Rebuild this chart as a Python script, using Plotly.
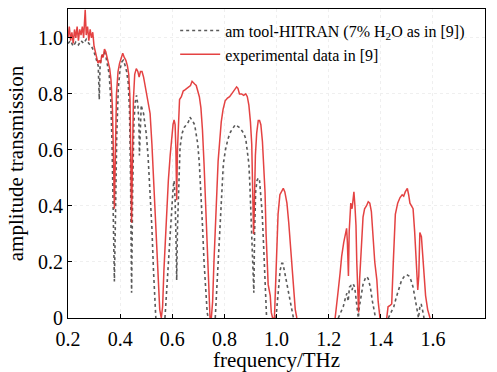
import plotly.graph_objects as go

# Experimental data (red); None marks the stretch where the trace lies on the axis
freq_exp = [0.200, 0.205, 0.210, 0.215, 0.220, 0.225, 0.230, 0.235, 0.240, 0.245, 0.250, 0.255, 0.260, 0.266, 0.270,
            0.275, 0.280, 0.285, 0.290, 0.295, 0.300, 0.305, 0.310, 0.315, 0.320, 0.325, 0.330, 0.335, 0.340, 0.345,
            0.350, 0.355, 0.360, 0.365, 0.370, 0.374, 0.378, 0.382, 0.386, 0.392, 0.398, 0.405, 0.410, 0.416, 0.422,
            0.428, 0.433, 0.438, 0.441, 0.444, 0.447, 0.451, 0.456, 0.462, 0.468, 0.473, 0.478, 0.484, 0.490, 0.496,
            0.502, 0.508, 0.515, 0.522, 0.528, 0.534, 0.540, 0.546, 0.552, 0.558, 0.563, 0.568, 0.572, 0.578, 0.585,
            0.592, 0.598, 0.603, 0.607, 0.611, 0.614, 0.617, 0.620, 0.624, 0.628, 0.635, 0.642, 0.650, 0.658, 0.664,
            0.670, 0.676, 0.680, 0.686, 0.692, 0.698, 0.704, 0.710, 0.716, 0.722, 0.728, 0.734, 0.740, 0.745, 0.750,
            0.755, 0.760, 0.766, 0.770, 0.776, 0.782, 0.788, 0.795, 0.803, 0.812, 0.820, 0.828, 0.836, 0.842, 0.847,
            0.852, 0.858, 0.866, 0.874, 0.882, 0.888, 0.894, 0.900, 0.905, 0.909, 0.912, 0.915, 0.919, 0.924, 0.930,
            0.935, 0.940, 0.946, 0.951, 0.956, 0.960, 0.964, 0.968, 0.972, 0.976, 0.980, 0.985, 0.992, 0.996, 1.000,
            1.006, 1.013, 1.020, 1.026, 1.032, 1.040, 1.047, 1.054, 1.060, 1.066, 1.072, 1.078, 1.150, 1.225, 1.232,
            1.237, 1.244, 1.250, 1.258, 1.264, 1.269, 1.272, 1.276, 1.279, 1.285, 1.290, 1.294, 1.297, 1.301, 1.305,
            1.308, 1.312, 1.315, 1.319, 1.323, 1.327, 1.332, 1.338, 1.345, 1.352, 1.358, 1.364, 1.370, 1.377, 1.385,
            1.390, 1.397, 1.410, 1.423, 1.428, 1.436, 1.442, 1.448, 1.452, 1.456, 1.465, 1.474, 1.482, 1.488, 1.494,
            1.502, 1.507, 1.512, 1.518, 1.524, 1.530, 1.536, 1.542, 1.546, 1.550, 1.556, 1.562, 1.572, 1.580, 1.589]
trans_exp = [1.00, 1.04, 0.99, 1.02, 0.98, 1.03, 1.00, 1.04, 0.99, 1.03, 1.01, 1.04, 1.00, 1.10, 1.01,
             1.04, 0.99, 1.03, 1.00, 1.02, 0.97, 0.95, 0.92, 0.91, 0.92, 0.91, 0.94, 0.93, 0.96, 0.95,
             0.93, 0.91, 0.89, 0.85, 0.76, 0.60, 0.39, 0.60, 0.80, 0.88, 0.91, 0.93, 0.945, 0.93, 0.92,
             0.90, 0.87, 0.78, 0.60, 0.34, 0.55, 0.78, 0.87, 0.89, 0.88, 0.86, 0.88, 0.88, 0.86, 0.83,
             0.80, 0.77, 0.73, 0.62, 0.50, 0.375, 0.24, 0.12, 0.03, 0.0, 0.04, 0.17, 0.26, 0.38, 0.49,
             0.58, 0.65, 0.69, 0.707, 0.69, 0.60, 0.42, 0.60, 0.74, 0.78, 0.79, 0.81, 0.815, 0.82, 0.825,
             0.83, 0.845, 0.84, 0.835, 0.83, 0.81, 0.79, 0.75, 0.67, 0.55, 0.40, 0.22, 0.06, 0.0, 0.0,
             0.06, 0.20, 0.36, 0.45, 0.56, 0.63, 0.70, 0.745, 0.775, 0.785, 0.79, 0.80, 0.81, 0.815, 0.825,
             0.82, 0.80, 0.80, 0.795, 0.80, 0.79, 0.76, 0.70, 0.62, 0.45, 0.30, 0.40, 0.58, 0.66, 0.705,
             0.705, 0.69, 0.63, 0.55, 0.45, 0.30, 0.18, 0.12, 0.10, 0.08, 0.02, 0.0, 0.0, 0.12, 0.26,
             0.37, 0.44, 0.455, 0.463, 0.45, 0.41, 0.34, 0.25, 0.16, 0.09, 0.03, 0.0, None, 0.0, 0.05,
             0.10, 0.16, 0.22, 0.27, 0.30, 0.32, 0.27, 0.15, 0.31, 0.41, 0.39, 0.42, 0.45, 0.40, 0.33,
             0.20, 0.05, 0.02, 0.14, 0.22, 0.28, 0.36, 0.39, 0.40, 0.415, 0.41, 0.38, 0.29, 0.20, 0.136,
             0.06, 0.0, None, 0.0, 0.04, 0.045, 0.05, 0.195, 0.31, 0.37, 0.41, 0.43, 0.44, 0.435, 0.45,
             0.463, 0.44, 0.41, 0.40, 0.39, 0.31, 0.20, 0.10, 0.15, 0.305, 0.29, 0.20, 0.08, 0.03, 0.0]

# am tool-HITRAN simulation (gray dotted)
freq_sim = [0.200, 0.210, 0.220, 0.230, 0.240, 0.250, 0.260, 0.270, 0.280, 0.290, 0.300, 0.306, 0.312, 0.316, 0.320,
            0.323, 0.328, 0.334, 0.340, 0.346, 0.352, 0.358, 0.364, 0.369, 0.374, 0.378, 0.382, 0.387, 0.393, 0.400,
            0.407, 0.412, 0.418, 0.425, 0.431, 0.436, 0.440, 0.444, 0.448, 0.453, 0.458, 0.463, 0.468, 0.472, 0.474,
            0.477, 0.481, 0.486, 0.490, 0.494, 0.500, 0.507, 0.515, 0.522, 0.528, 0.533, 0.537, 0.555, 0.572, 0.578,
            0.585, 0.592, 0.598, 0.603, 0.607, 0.611, 0.614, 0.617, 0.620, 0.624, 0.630, 0.638, 0.646, 0.654, 0.662,
            0.668, 0.674, 0.680, 0.686, 0.692, 0.698, 0.704, 0.710, 0.716, 0.722, 0.728, 0.734, 0.738, 0.750, 0.765,
            0.770, 0.776, 0.782, 0.788, 0.796, 0.804, 0.814, 0.824, 0.834, 0.842, 0.850, 0.858, 0.866, 0.874, 0.882,
            0.888, 0.894, 0.898, 0.902, 0.906, 0.910, 0.913, 0.916, 0.920, 0.925, 0.930, 0.935, 0.940, 0.945, 0.950,
            0.954, 0.958, 0.962, 0.980, 0.998, 1.003, 1.008, 1.014, 1.020, 1.024, 1.030, 1.037, 1.044, 1.052, 1.058,
            1.065, 1.150, 1.237, 1.247, 1.256, 1.264, 1.270, 1.275, 1.280, 1.285, 1.290, 1.295, 1.300, 1.305, 1.310,
            1.314, 1.318, 1.325, 1.332, 1.340, 1.346, 1.352, 1.360, 1.368, 1.374, 1.380, 1.405, 1.429, 1.440, 1.450,
            1.460, 1.470, 1.480, 1.490, 1.500, 1.508, 1.516, 1.524, 1.532, 1.540, 1.545, 1.550, 1.555, 1.560, 1.566]
trans_sim = [0.98, 0.99, 0.97, 0.985, 0.975, 0.99, 0.98, 0.995, 0.98, 0.97, 0.95, 0.93, 0.92, 0.90, 0.78,
             0.90, 0.93, 0.94, 0.95, 0.93, 0.90, 0.87, 0.78, 0.62, 0.35, 0.13, 0.35, 0.65, 0.82, 0.89,
             0.915, 0.92, 0.905, 0.88, 0.84, 0.74, 0.50, 0.09, 0.45, 0.70, 0.77, 0.795, 0.76, 0.70, 0.58,
             0.70, 0.76, 0.74, 0.73, 0.70, 0.66, 0.58, 0.46, 0.32, 0.17, 0.06, 0.0, None, 0.0, 0.09,
             0.18, 0.30, 0.40, 0.46, 0.49, 0.42, 0.30, 0.135, 0.32, 0.46, 0.61, 0.66, 0.68, 0.69, 0.70,
             0.717, 0.71, 0.70, 0.69, 0.66, 0.62, 0.55, 0.45, 0.33, 0.20, 0.09, 0.02, 0.0, None, 0.0,
             0.09, 0.22, 0.33, 0.45, 0.55, 0.60, 0.64, 0.665, 0.68, 0.69, 0.685, 0.68, 0.67, 0.66, 0.64,
             0.60, 0.55, 0.47, 0.375, 0.25, 0.136, 0.09, 0.31, 0.45, 0.49, 0.50, 0.49, 0.44, 0.375, 0.27,
             0.18, 0.08, 0.0, None, 0.0, 0.06, 0.12, 0.17, 0.195, 0.195, 0.17, 0.136, 0.09, 0.05, 0.02,
             0.0, None, 0.0, 0.02, 0.04, 0.07, 0.088, 0.06, 0.11, 0.115, 0.10, 0.12, 0.11, 0.07, 0.03,
             0.0, 0.04, 0.08, 0.12, 0.14, 0.148, 0.14, 0.11, 0.06, 0.03, 0.0, None, 0.0, 0.02, 0.04,
             0.075, 0.11, 0.135, 0.148, 0.155, 0.15, 0.135, 0.11, 0.07, 0.02, 0.0, 0.04, 0.05, 0.03, 0.0]

x_ticks = [0.2, 0.4, 0.6, 0.8, 1.0, 1.2, 1.4, 1.6, 1.8]
x_ticklabels = ["0.2", "0.4", "0.6", "0.8", "1.0", "1.2", "1.4", "1.6", "1.8"]
y_ticks = [0, 0.2, 0.4, 0.6, 0.8, 1.0]
y_ticklabels = ["0", "0.2", "0.4", "0.6", "0.8", "1.0"]

FONT = "Liberation Serif"

fig = go.Figure()
fig.add_trace(go.Scatter(
    x=freq_sim, y=trans_sim, mode="lines", connectgaps=False,
    name="am tool-HITRAN (7% H<sub>2</sub>O as in [9])",
    line=dict(color="#5a5a5a", width=1.6, dash="dot"),
))
fig.add_trace(go.Scatter(
    x=freq_exp, y=trans_exp, mode="lines", connectgaps=False,
    name="experimental data in [9]",
    line=dict(color="rgba(225,45,45,0.9)", width=1.5),
))

axis_common = dict(
    showline=True, linecolor="black", linewidth=1, mirror=True,
    ticks="inside", ticklen=4, tickcolor="black", tickwidth=1,
    showgrid=True, gridcolor="#efefef", griddash="dot", gridwidth=1,
    zeroline=False, automargin=False,
    tickfont=dict(family=FONT, size=20, color="black"),
)

fig.update_layout(
    width=497, height=372,
    margin=dict(l=68, r=12, t=9, b=54),
    paper_bgcolor="white", plot_bgcolor="white",
    font=dict(family=FONT, color="black"),
    showlegend=True,
    legend=dict(
        x=0.257, y=0.985, xanchor="left", yanchor="top",
        bgcolor="rgba(0,0,0,0)", borderwidth=0,
        font=dict(family=FONT, size=16, color="black"),
        tracegroupgap=0, itemwidth=40,
    ),
    xaxis=dict(
        range=[0.2, 1.8], tickvals=x_ticks, ticktext=x_ticklabels,
        ticklabelstandoff=3,
        title=dict(text="frequency/THz", font=dict(family=FONT, size=21, color="black"), standoff=2),
        **axis_common,
    ),
    yaxis=dict(
        range=[0, 1.103], tickvals=y_ticks, ticktext=y_ticklabels,
        title=dict(text="amplitude transmission", font=dict(family=FONT, size=21, color="black"), standoff=8),
        **axis_common,
    ),
)

fig.write_html("out.html")
